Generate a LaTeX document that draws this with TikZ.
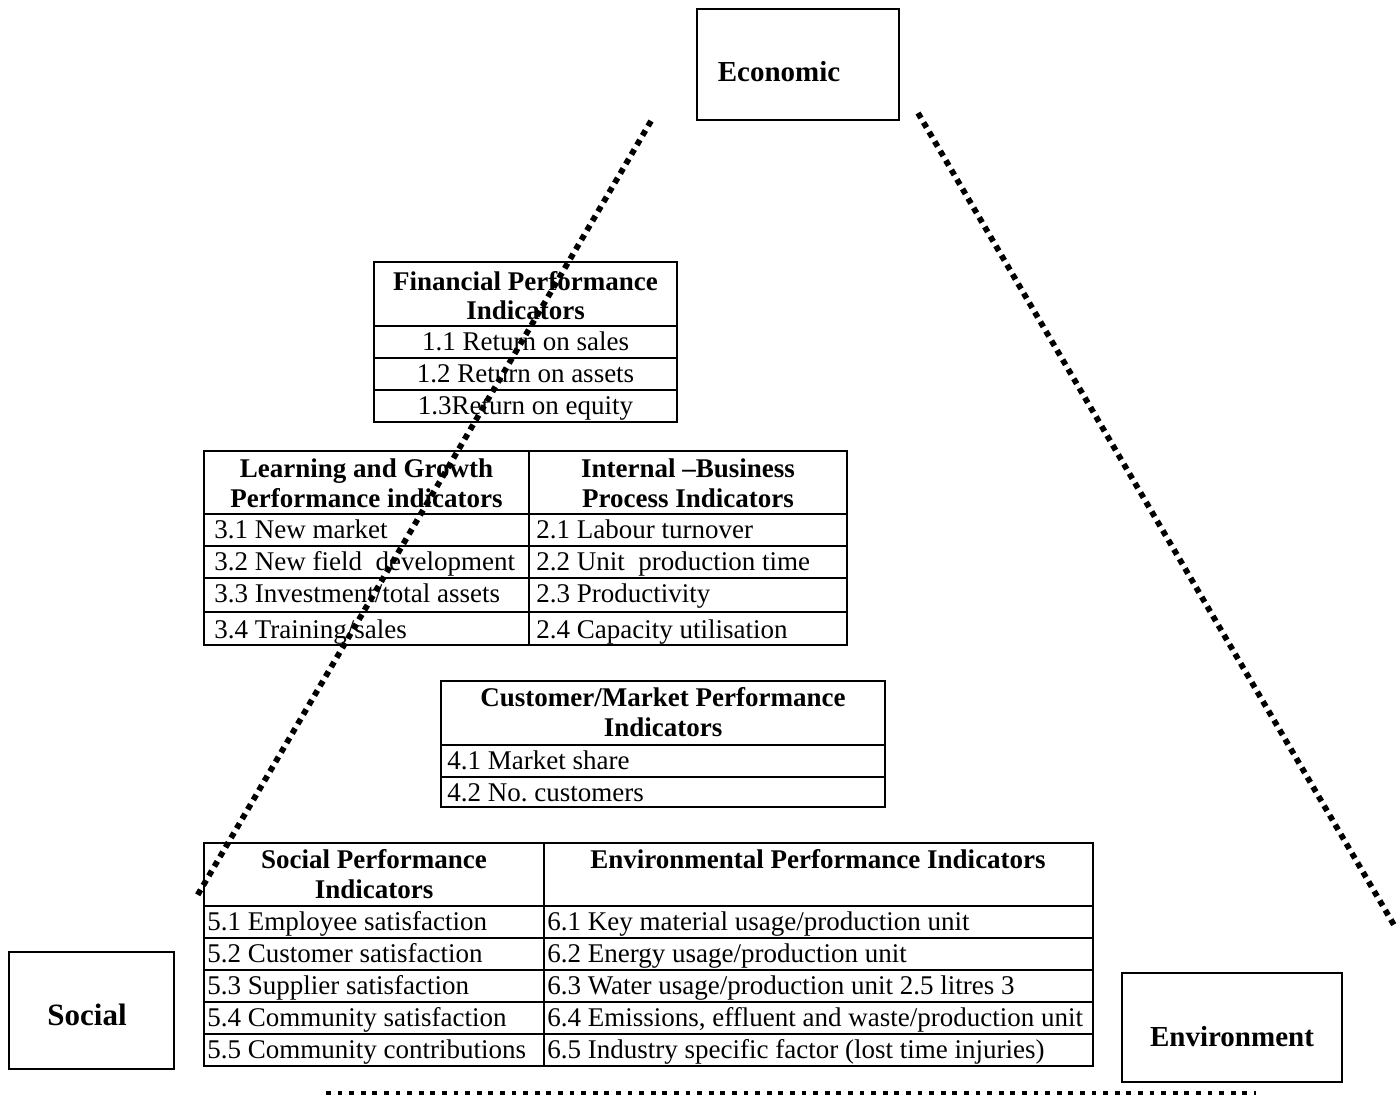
\documentclass[tikz,border=0pt]{standalone}
\usepackage{fontspec}
\setmainfont{Liberation Serif}
\usetikzlibrary{positioning}
\frenchspacing

\begin{document}
\begin{tikzpicture}[x=0.5pt,y=-0.5pt,
  tbl/.style={line width=1pt},
  row/.style={inner sep=0pt,anchor=base west,font=\fontsize{13.5}{15}\selectfont},
  rowc/.style={inner sep=0pt,anchor=base,font=\fontsize{13.5}{15}\selectfont},
  head/.style={inner sep=0pt,anchor=base,font=\fontsize{13.5}{15}\selectfont\bfseries},
  pillar/.style={inner sep=0pt,anchor=base,font=\fontsize{14.5}{16}\selectfont\bfseries},
  dots/.style={line width=2.9pt,dash pattern=on 2.9pt off 2.6pt},
  flatdots/.style={line width=2.4pt,dash pattern=on 2.4pt off 3.4pt}]
\useasboundingbox (0,0) rectangle (1397,1100);

% les trois piliers
\draw[tbl] (697,9) rectangle (899,120);
\node[pillar] (eco) at (779,81) {Economic};
\draw[tbl] (9,952) rectangle (174,1069);
\node[pillar,font=\fontsize{15.5}{17}\selectfont\bfseries] (soc) at (87,1025) {Social};
\draw[tbl] (1122,973) rectangle (1342,1082);
\node[pillar] (env) at (1232,1046) {Environment};

% financial
\draw[tbl] (374,262) rectangle (677,422);
\draw[tbl] (374,326) -- (677,326);
\draw[tbl] (374,358) -- (677,358);
\draw[tbl] (374,390) -- (677,390);
\node[head] (fin1) at (525.5,290) {Financial Performance};
\node[head] (fin2) at (525.5,319) {Indicators};
\node[rowc] (f11) at (525.5,350) {1.1 Return on sales};
\node[rowc] (f12) at (525.5,382) {1.2 Return on assets};
\node[rowc] (f13) at (525.5,414) {1.3Return on equity};

% learning and growth / internal business
\draw[tbl] (204,451) rectangle (847,645);
\draw[tbl] (529,451) -- (529,645);
\draw[tbl] (204,514) -- (847,514);
\draw[tbl] (204,546) -- (847,546);
\draw[tbl] (204,578) -- (847,578);
\draw[tbl] (204,612) -- (847,612);
\node[head] (lg1) at (366.5,477) {Learning and Growth};
\node[head] (lg2) at (366.5,507) {Performance indicators};
\node[head] (ib1) at (688,477) {Internal –Business};
\node[head] (ib2) at (688,507) {Process Indicators};
\node[row] (l31) at (214,538) {3.1 New market};
\node[row] (l32) at (214,570) {3.2 New field\ \ development};
\node[row] (l33) at (214,602) {3.3 Investment/total assets};
\node[row] (l34) at (214,638) {3.4 Training/sales};
\node[row] (i21) at (536,538) {2.1 Labour turnover};
\node[row] (i22) at (536,570) {2.2 Unit\ \ production time};
\node[row] (i23) at (536,602) {2.3 Productivity};
\node[row] (i24) at (536,638) {2.4 Capacity utilisation};

% customer
\draw[tbl] (441,681) rectangle (885,807);
\draw[tbl] (441,745) -- (885,745);
\draw[tbl] (441,777) -- (885,777);
\node[head] (cm1) at (663,706) {Customer/Market Performance};
\node[head] (cm2) at (663,736) {Indicators};
\node[row] (c41) at (447,769) {4.1 Market share};
\node[row] (c42) at (447,801) {4.2 No. customers};

% social / environmental
\draw[tbl] (204,843) rectangle (1093,1066);
\draw[tbl] (544,843) -- (544,1066);
\draw[tbl] (204,906) -- (1093,906);
\draw[tbl] (204,938) -- (1093,938);
\draw[tbl] (204,970) -- (1093,970);
\draw[tbl] (204,1002) -- (1093,1002);
\draw[tbl] (204,1034) -- (1093,1034);
\node[head] (sp1) at (374,868) {Social Performance};
\node[head] (sp2) at (374,898) {Indicators};
\node[head] (ep1) at (818,868) {Environmental Performance Indicators};
\node[row] (s51) at (207,930) {5.1 Employee satisfaction};
\node[row] (s52) at (207,962) {5.2 Customer satisfaction};
\node[row] (s53) at (207,994) {5.3 Supplier satisfaction};
\node[row] (s54) at (207,1026) {5.4 Community satisfaction};
\node[row] (s55) at (207,1058) {5.5 Community contributions};
\node[row] (e61) at (547,930) {6.1 Key material usage/production unit};
\node[row] (e62) at (547,962) {6.2 Energy usage/production unit};
\node[row] (e63) at (547,994) {6.3 Water usage/production unit 2.5 litres 3};
\node[row] (e64) at (547,1026) {6.4 Emissions, effluent and waste/production unit};
\node[row] (e65) at (547,1058) {6.5 Industry specific factor (lost time injuries)};

% le triangle en pointilles
\coordinate (ltop) at (651,121);
\coordinate (lbot) at (197,896);
\coordinate (rtop) at (918,113);
\coordinate (rbot) at (1394,925);
\coordinate (bleft) at (326,1093);
\coordinate (bright) at (1256,1093);
\draw[dots] (ltop) -- (lbot);
\draw[dots] (rtop) -- (rbot);
\draw[flatdots] (bleft) -- (bright);

\end{tikzpicture}
\end{document}
